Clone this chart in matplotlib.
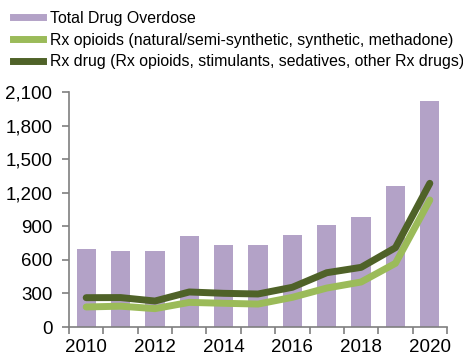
import matplotlib.pyplot as plt
import numpy as np
from matplotlib.lines import Line2D

plt.rcParams["font.family"] = ["Liberation Sans", "DejaVu Sans"]

years = list(range(2010, 2021))
total_overdose = [697, 682, 679, 813, 733, 733, 822, 914, 986, 1263, 2020]
rx_opioids = [179, 186, 164, 220, 212, 205, 265, 348, 402, 569, 1135]
rx_drug = [262, 263, 232, 313, 301, 295, 355, 485, 533, 709, 1284]

PURPLE = "#B3A2C7"
LIGHT = "#9BBB59"
DARK = "#4F6228"
AXIS = "#7F7F7F"

fig = plt.figure(figsize=(4.64, 3.58), dpi=100)
ax = fig.add_axes([69 / 464, 1 - 327 / 358, 378 / 464, 235 / 358])

x = np.arange(len(years))
ax.bar(x, total_overdose, width=0.56, color=PURPLE, zorder=1)
ax.plot(x, rx_drug, color=DARK, lw=5, solid_capstyle="round", zorder=3)
ax.plot(x, rx_opioids, color=LIGHT, lw=5, solid_capstyle="round", zorder=2)

ax.set_xlim(-0.5, len(years) - 0.5)
ax.set_ylim(0, 2100)
ax.set_yticks(range(0, 2101, 300))
ax.set_yticklabels([f"{v:,}" for v in range(0, 2101, 300)])

# year labels every other year, tick marks between categories
ax.set_xticks(x[::2])
ax.set_xticklabels([str(y) for y in years[::2]])
ax.set_xticks(np.arange(-0.5, len(years)), minor=True)
ax.tick_params(axis="x", which="major", length=0, pad=8.5)
ax.tick_params(axis="x", which="minor", length=5, color=AXIS, width=1.2)
ax.tick_params(axis="y", length=5, color=AXIS, width=1.2, pad=7)
ax.tick_params(labelsize=13.5)

for side in ("top", "right"):
    ax.spines[side].set_visible(False)
for side in ("left", "bottom"):
    ax.spines[side].set_color(AXIS)
    ax.spines[side].set_linewidth(1.2)

handles = [
    Line2D([], [], color=PURPLE, lw=5),
    Line2D([], [], color=LIGHT, lw=5),
    Line2D([], [], color=DARK, lw=5),
]
labels = [
    "Total Drug Overdose",
    "Rx opioids (natural/semi-synthetic, synthetic, methadone)",
    "Rx drug (Rx opioids, stimulants, sedatives, other Rx drugs)",
]
fig.legend(handles, labels, loc="upper left", bbox_to_anchor=(13 / 464, 1 - 11 / 358),
           frameon=False, fontsize=11.4, handlelength=1.9, handletextpad=0.45,
           labelspacing=0.42, borderaxespad=0, borderpad=0)

fig.savefig("out.png", dpi=100)
